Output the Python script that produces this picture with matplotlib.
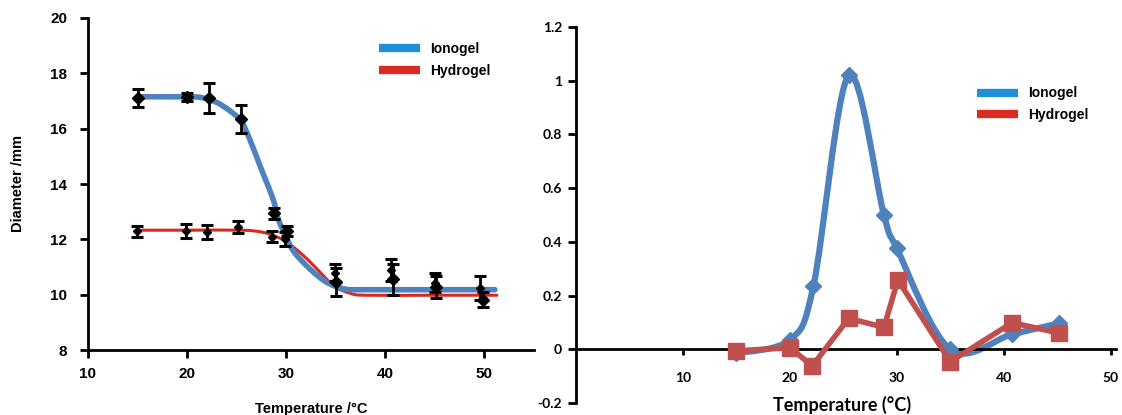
import numpy as np
import matplotlib
matplotlib.use("Agg")
import matplotlib.pyplot as plt
from matplotlib.path import Path
from matplotlib.patches import PathPatch
from matplotlib.lines import Line2D

# left panel: measured diameters (mean, error)
temp_ion = [15, 20, 22.2, 25.5, 28.8, 30.1, 35.0, 40.8, 45.2, 49.9]
diam_ion = [17.12, 17.15, 17.1, 16.35, 12.95, 12.3, 10.45, 10.55, 10.28, 9.82]
err_ion = [0.33, 0.15, 0.55, 0.5, 0.2, 0.18, 0.5, 0.55, 0.4, 0.28]

temp_hyd = [14.9, 19.9, 22.0, 25.2, 28.6, 29.9, 34.9, 40.6, 45.0, 49.6]
diam_hyd = [12.3, 12.3, 12.28, 12.45, 12.1, 12.0, 10.8, 10.9, 10.43, 10.24]
err_hyd = [0.2, 0.25, 0.25, 0.22, 0.2, 0.25, 0.3, 0.4, 0.35, 0.45]

# fitted curves
fit_ion_x = [15, 20, 21.5, 23, 24.5, 25.5, 26.3, 27.6, 28.7, 29.2, 30, 30.8, 32.5, 34.2, 36, 38, 45, 51.1]
fit_ion_y = [17.15, 17.15, 17.12, 16.95, 16.6, 16.25, 15.65, 14.45, 13.45, 12.75, 12.1, 11.55, 10.9, 10.43, 10.2, 10.18, 10.18, 10.18]
fit_hyd_x = [15, 20, 25.5, 27.6, 29, 30.1, 31.8, 33.2, 34.9, 36.5, 38, 45, 51.3]
fit_hyd_y = [12.33, 12.33, 12.33, 12.26, 12.1, 11.9, 11.4, 10.9, 10.3, 10.05, 9.98, 9.98, 9.98]

# right panel
r_ion_x = [15, 20, 22.2, 25.5, 28.8, 30, 35, 40.8, 45.2]
r_ion_y = [-0.015, 0.035, 0.235, 1.02, 0.50, 0.376, 0.0, 0.056, 0.097]
r_hyd_x = [15, 20, 22.1, 25.5, 28.8, 30.1, 35, 40.8, 45.2]
r_hyd_y = [-0.006, 0.006, -0.062, 0.115, 0.082, 0.258, -0.046, 0.099, 0.06]

BLUE = "#4F81BD"
RED_R = "#C0504D"
RED_L = "#D62A20"
LEG_BLUE = "#1E8FD8"
LEG_RED = "#DA2A22"


def smooth_path(x, y, t=1/6):
    # excel-like smoothed line: catmull-rom turned into bezier segments
    pts = np.column_stack([x, y]).astype(float)
    verts = [pts[0]]
    codes = [Path.MOVETO]
    n = len(pts)
    for i in range(n - 1):
        p0 = pts[i - 1] if i > 0 else pts[i]
        p1 = pts[i]
        p2 = pts[i + 1]
        p3 = pts[i + 2] if i + 2 < n else pts[i + 1]
        verts += [p1 + (p2 - p0) * t, p2 - (p3 - p1) * t, p2]
        codes += [Path.CURVE4] * 3
    return Path(verts, codes)


fig = plt.figure(figsize=(11.22, 4.15), dpi=100)

# ---- left panel ----
ax1 = fig.add_axes([88/1122, 65/415, 446/1122, 332/415])
ax1.add_patch(PathPatch(smooth_path(fit_ion_x, fit_ion_y), fill=False,
                        edgecolor=BLUE, lw=4.0, capstyle="round", zorder=2))
ax1.add_patch(PathPatch(smooth_path(fit_hyd_x, fit_hyd_y), fill=False,
                        edgecolor=RED_L, lw=2.2, capstyle="round", zorder=1))
ax1.errorbar(temp_hyd, diam_hyd, yerr=err_hyd, fmt="D", color="black", ms=4.5,
             elinewidth=2, capsize=4, capthick=2.2, zorder=3)
ax1.errorbar(temp_ion, diam_ion, yerr=err_ion, fmt="D", color="black", ms=6.5,
             elinewidth=2, capsize=4, capthick=2.2, zorder=4)

ax1.set_xlim(10, 55.05)
ax1.set_ylim(8, 20)
ax1.set_xticks([10, 20, 30, 40, 50])
ax1.set_yticks([8, 10, 12, 14, 16, 18, 20])
for s in ["top", "right"]:
    ax1.spines[s].set_visible(False)
for s in ["left", "bottom"]:
    ax1.spines[s].set_linewidth(2)
ax1.tick_params(direction="out", length=6, width=2, labelsize=11, pad=9)
ax1.tick_params(axis="x", pad=6)
for lab in ax1.get_xticklabels() + ax1.get_yticklabels():
    lab.set_fontweight("bold")
    lab.set_family("Liberation Sans")
ax1.set_xlabel("Temperature /°C", fontsize=10.5, fontweight="bold",
               family="Liberation Sans", labelpad=15)
ax1.set_ylabel("Diameter /mm", fontsize=10.5, fontweight="bold",
               family="Liberation Sans", labelpad=18)

h1 = [Line2D([], [], color=LEG_BLUE, lw=6, solid_capstyle="butt"),
      Line2D([], [], color=LEG_RED, lw=6, solid_capstyle="butt")]
ax1.legend(h1, ["Ionogel", "Hydrogel"], loc="upper left",
           bbox_to_anchor=(0.625, 0.965), frameon=False, handlelength=2.9,
           handletextpad=0.75, labelspacing=0.55,
           prop={"family": "Liberation Sans", "weight": "bold", "size": 10})

# ---- right panel ----
ax2 = fig.add_axes([576/1122, 12/415, 540/1122, 376/415])
ax2.add_patch(PathPatch(smooth_path(r_ion_x, r_ion_y), fill=False,
                        edgecolor=BLUE, lw=4.5, capstyle="round", zorder=2))
ax2.plot(r_ion_x, r_ion_y, "D", color=BLUE, ms=8, zorder=3)
ax2.plot(r_hyd_x, r_hyd_y, "-s", color=RED_R, lw=4, ms=11, zorder=4)

ax2.set_xlim(0, 50.5)
ax2.set_ylim(-0.2, 1.2)
ax2.set_xticks([10, 20, 30, 40, 50])
yt = [-0.2, 0, 0.2, 0.4, 0.6, 0.8, 1.0, 1.2]
ax2.set_yticks(yt)
ax2.set_yticklabels(["-0.2", "0", "0.2", "0.4", "0.6", "0.8", "1", "1.2"])
for s in ["top", "right"]:
    ax2.spines[s].set_visible(False)
ax2.spines["bottom"].set_position(("data", 0))
for s in ["left", "bottom"]:
    ax2.spines[s].set_linewidth(2)
ax2.tick_params(axis="x", direction="out", length=4, width=2, labelsize=10, pad=12)
ax2.tick_params(axis="y", direction="out", length=6, width=2, labelsize=10, pad=4)
for lab in ax2.get_xticklabels() + ax2.get_yticklabels():
    lab.set_fontweight("bold")
    lab.set_family("Lato")
ax2.set_xlabel("Temperature (°C)", fontsize=13, fontweight="bold", family="Lato")
ax2.xaxis.set_label_coords(0.493, 0.02)

h2 = [Line2D([], [], color=LEG_BLUE, lw=6, solid_capstyle="butt"),
      Line2D([], [], color=LEG_RED, lw=6, solid_capstyle="butt")]
ax2.legend(h2, ["Ionogel", "Hydrogel"], loc="upper left",
           bbox_to_anchor=(0.72, 0.875), frameon=False, handlelength=2.9,
           handletextpad=0.75, labelspacing=0.55,
           prop={"family": "Liberation Sans", "weight": "bold", "size": 10})

fig.savefig("out.png", dpi=100)
